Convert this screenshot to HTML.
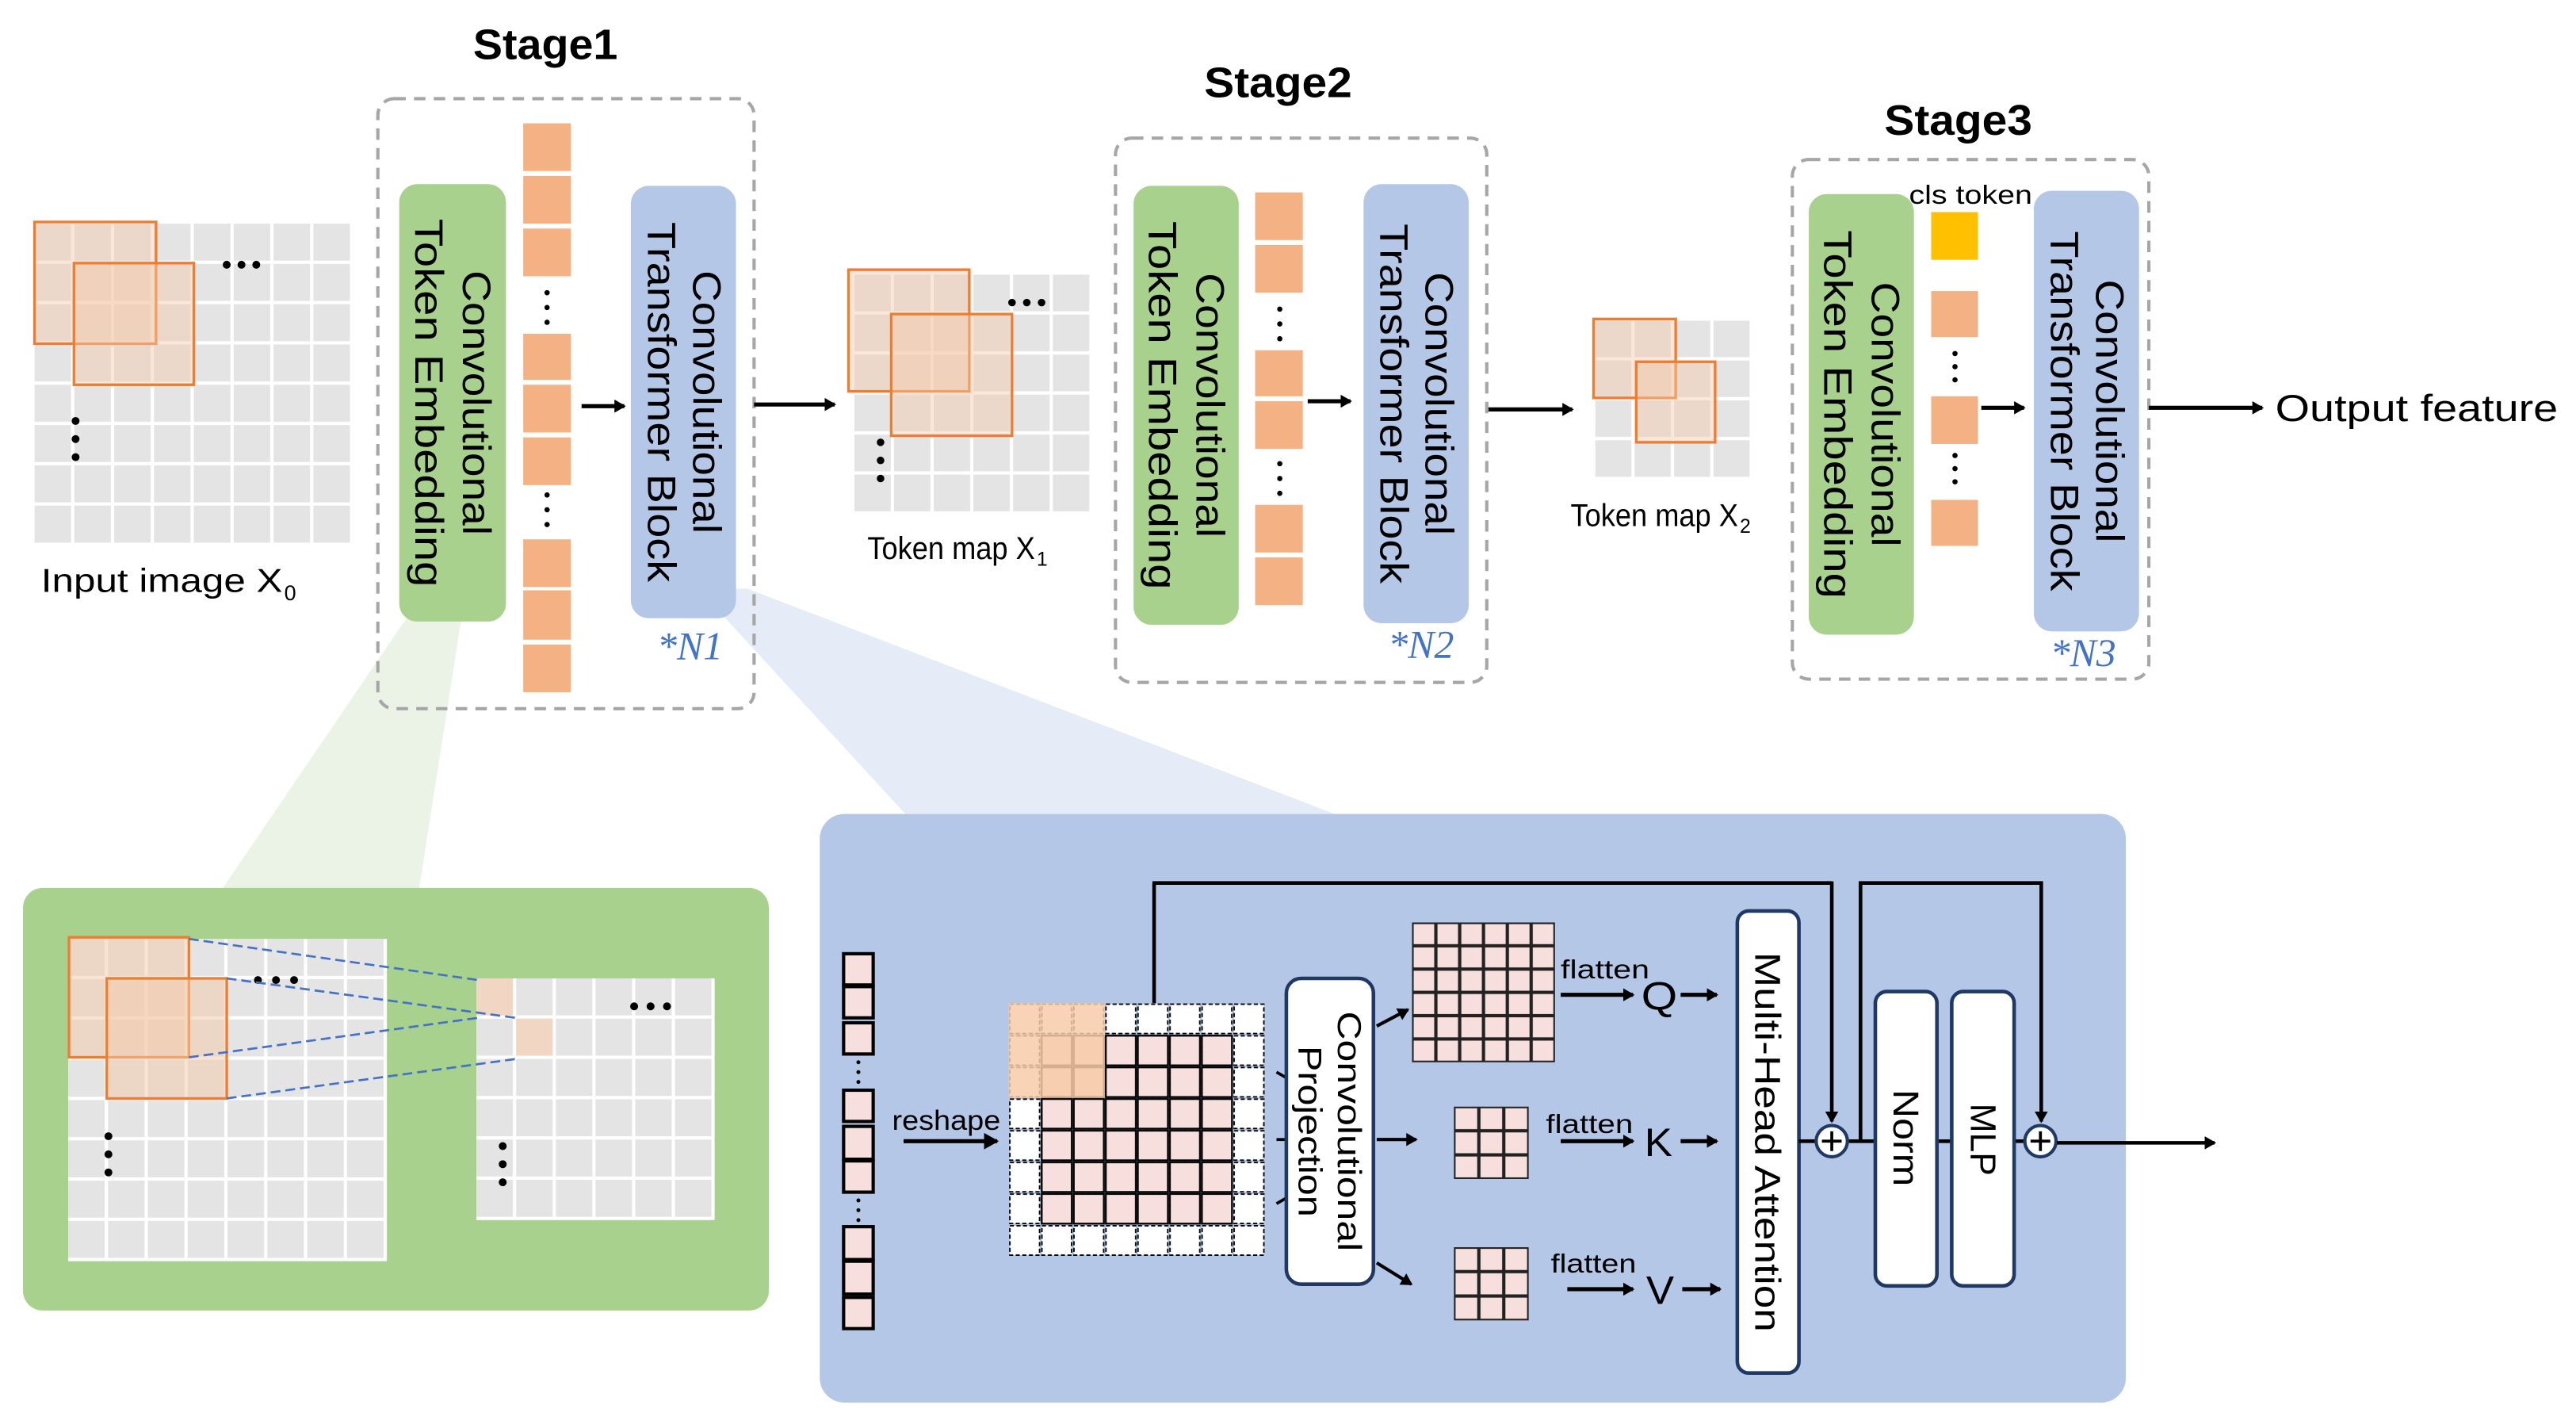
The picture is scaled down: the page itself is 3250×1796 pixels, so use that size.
<!DOCTYPE html>
<html><head><meta charset="utf-8"><style>html,body{margin:0;padding:0;background:#fff}svg{display:block}</style></head>
<body>
<svg width="3250" height="1796" viewBox="0 0 1568 866" preserveAspectRatio="none" xmlns="http://www.w3.org/2000/svg" font-family="'Liberation Sans', 'DejaVu Sans', sans-serif">
<defs>
<pattern id="g0" patternUnits="userSpaceOnUse" x="21" y="136" width="24.25" height="24.5"><rect width="22.25" height="22.5" fill="#e4e4e4"/></pattern>
<pattern id="g1" patternUnits="userSpaceOnUse" x="520" y="167" width="24.17" height="24.33"><rect width="22.2" height="22.3" fill="#e4e4e4"/></pattern>
<pattern id="g2" patternUnits="userSpaceOnUse" x="971" y="195" width="24" height="24.25"><rect width="22" height="22.2" fill="#e4e4e4"/></pattern>
<pattern id="g3" patternUnits="userSpaceOnUse" x="41.5" y="571" width="24.25" height="24.5"><rect width="22.25" height="22.5" fill="#e4e4e4"/></pattern>
<pattern id="g4" patternUnits="userSpaceOnUse" x="290" y="595" width="24.17" height="24.5"><rect width="22.2" height="22.5" fill="#e4e4e4"/></pattern>
<pattern id="pd" patternUnits="userSpaceOnUse" x="614" y="610" width="19.5" height="19.25"><rect x="0.7" y="0.7" width="18.1" height="17.85" fill="#fff" stroke="#000" stroke-width="0.9" stroke-dasharray="2.5,1.5"/></pattern>
<pattern id="ps" patternUnits="userSpaceOnUse" x="633.5" y="629.25" width="19.5" height="19.25"><rect x="0.6" y="0.6" width="18.3" height="18.05" fill="#f6dfdc" stroke="#000" stroke-width="1.1"/></pattern>
<pattern id="pq" patternUnits="userSpaceOnUse" x="859.5" y="561" width="14.5" height="14.17"><rect x="0.5" y="0.5" width="13.5" height="13.17" fill="#f6dfdc" stroke="#222" stroke-width="1"/></pattern>
<pattern id="pk" patternUnits="userSpaceOnUse" x="885" y="673" width="15.17" height="14.67"><rect x="0.5" y="0.5" width="14.17" height="13.67" fill="#f6dfdc" stroke="#222" stroke-width="1"/></pattern>
<pattern id="pv" patternUnits="userSpaceOnUse" x="885" y="758.5" width="15.17" height="14.83"><rect x="0.5" y="0.5" width="14.17" height="13.83" fill="#f6dfdc" stroke="#222" stroke-width="1"/></pattern>
<marker id="ah" markerWidth="8" markerHeight="8" refX="6" refY="4" orient="auto" markerUnits="userSpaceOnUse"><path d="M0,0 L7,4 L0,8 Z" fill="#000"/></marker>
<marker id="ah2" markerWidth="10" markerHeight="10" refX="8" refY="5" orient="auto" markerUnits="userSpaceOnUse"><path d="M0,0 L9,5 L0,10 Z" fill="#000"/></marker>
</defs>

<polygon points="248,375 281,375 255,541 135,541" fill="#ebf3e6"/>
<polygon points="425,358 455,358 815,496 552,496" fill="#e6ecf7"/>

<text x="332" y="36" font-size="26" font-weight="bold" text-anchor="middle" textLength="88" lengthAdjust="spacingAndGlyphs">Stage1</text>
<text x="778" y="59" font-size="26" font-weight="bold" text-anchor="middle" textLength="90" lengthAdjust="spacingAndGlyphs">Stage2</text>
<text x="1192" y="82" font-size="26" font-weight="bold" text-anchor="middle" textLength="90" lengthAdjust="spacingAndGlyphs">Stage3</text>

<rect x="21" y="136" width="194" height="196" fill="url(#g0)"/>
<rect x="21" y="135" width="74" height="74" fill="#f4c9aa" fill-opacity="0.45" stroke="#ed7d31" stroke-width="1.6"/>
<rect x="45" y="160" width="73" height="74" fill="#f4c9aa" fill-opacity="0.45" stroke="#ed7d31" stroke-width="1.6"/>
<g fill="#000"><circle cx="138" cy="161" r="2.4"/><circle cx="147" cy="161" r="2.4"/><circle cx="156" cy="161" r="2.4"/>
<circle cx="46" cy="256" r="2.4"/><circle cx="46" cy="267" r="2.4"/><circle cx="46" cy="278" r="2.4"/></g>
<text x="25" y="360" font-size="20" textLength="147" lengthAdjust="spacingAndGlyphs">Input image X</text><text x="173" y="365" font-size="13">0</text>

<rect x="230" y="60" width="229" height="371" rx="10" fill="none" stroke="#a6a6a6" stroke-width="2" stroke-dasharray="7,5"/>
<rect x="243" y="112" width="65" height="266" rx="11" fill="#a9d18e"/>
<g transform="translate(275.5,245) rotate(90)" font-size="24" text-anchor="middle" dominant-baseline="central">
<text x="0" y="-14.5" textLength="161" lengthAdjust="spacingAndGlyphs">Convolutional</text>
<text x="0" y="14.5" textLength="224" lengthAdjust="spacingAndGlyphs">Token  Embedding</text></g>
<g fill="#f4b183"><rect x="318.5" y="75" width="29" height="29"/><rect x="318.5" y="107" width="29" height="29"/><rect x="318.5" y="139" width="29" height="29"/>
<rect x="318.5" y="203" width="29" height="28"/><rect x="318.5" y="234" width="29" height="29"/><rect x="318.5" y="266" width="29" height="29"/>
<rect x="318.5" y="328" width="29" height="29"/><rect x="318.5" y="359" width="29" height="30"/><rect x="318.5" y="392" width="29" height="29"/></g>
<g fill="#000"><circle cx="333" cy="178" r="1.6"/><circle cx="333" cy="187" r="1.6"/><circle cx="333" cy="196" r="1.6"/>
<circle cx="333" cy="301" r="1.6"/><circle cx="333" cy="310" r="1.6"/><circle cx="333" cy="319" r="1.6"/></g>
<line x1="354" y1="247" x2="380" y2="247" stroke="#000" stroke-width="2.5" marker-end="url(#ah)"/>
<rect x="384" y="113" width="64" height="263" rx="11" fill="#b4c7e7"/>
<g transform="translate(416,244.5) rotate(90)" font-size="24" text-anchor="middle" dominant-baseline="central">
<text x="0" y="-14" textLength="160" lengthAdjust="spacingAndGlyphs">Convolutional</text>
<text x="0" y="13.5" textLength="219" lengthAdjust="spacingAndGlyphs">Transformer  Block</text></g>
<text x="400" y="401" font-size="24" font-style="italic" fill="#4472c4" font-family="'Liberation Serif', serif">*N1</text>
<line x1="459" y1="246" x2="508" y2="246" stroke="#000" stroke-width="2.5" marker-end="url(#ah)"/>

<rect x="520" y="167" width="145" height="146" fill="url(#g1)"/>
<rect x="516.5" y="164" width="73.5" height="74" fill="#f4c9aa" fill-opacity="0.45" stroke="#ed7d31" stroke-width="1.6"/>
<rect x="542.5" y="191" width="73.5" height="74" fill="#f4c9aa" fill-opacity="0.45" stroke="#ed7d31" stroke-width="1.6"/>
<g fill="#000"><circle cx="616" cy="184" r="2.3"/><circle cx="625" cy="184" r="2.3"/><circle cx="634" cy="184" r="2.3"/>
<circle cx="536" cy="269" r="2.3"/><circle cx="536" cy="280" r="2.3"/><circle cx="536" cy="291" r="2.3"/></g>
<text x="528" y="340" font-size="19" textLength="102" lengthAdjust="spacingAndGlyphs">Token map X</text><text x="631" y="344" font-size="12">1</text>

<rect x="679" y="84" width="226" height="331" rx="10" fill="none" stroke="#a6a6a6" stroke-width="2" stroke-dasharray="7,5"/>
<rect x="690" y="113" width="64" height="267" rx="11" fill="#a9d18e"/>
<g transform="translate(722,246.5) rotate(90)" font-size="24" text-anchor="middle" dominant-baseline="central">
<text x="0" y="-14.5" textLength="161" lengthAdjust="spacingAndGlyphs">Convolutional</text>
<text x="0" y="14.5" textLength="224" lengthAdjust="spacingAndGlyphs">Token  Embedding</text></g>
<g fill="#f4b183"><rect x="764" y="117" width="29" height="29"/><rect x="764" y="149" width="29" height="29"/>
<rect x="764" y="213" width="29" height="28"/><rect x="764" y="244" width="29" height="29"/>
<rect x="764" y="307" width="29" height="29"/><rect x="764" y="339" width="29" height="29"/></g>
<g fill="#000"><circle cx="779" cy="188" r="1.6"/><circle cx="779" cy="197" r="1.6"/><circle cx="779" cy="206" r="1.6"/>
<circle cx="779" cy="282" r="1.6"/><circle cx="779" cy="291" r="1.6"/><circle cx="779" cy="300" r="1.6"/></g>
<line x1="796" y1="244" x2="822" y2="244" stroke="#000" stroke-width="2.5" marker-end="url(#ah)"/>
<rect x="830" y="112" width="64" height="267" rx="11" fill="#b4c7e7"/>
<g transform="translate(862,245.5) rotate(90)" font-size="24" text-anchor="middle" dominant-baseline="central">
<text x="0" y="-14" textLength="160" lengthAdjust="spacingAndGlyphs">Convolutional</text>
<text x="0" y="13.5" textLength="219" lengthAdjust="spacingAndGlyphs">Transformer  Block</text></g>
<text x="845" y="400" font-size="24" font-style="italic" fill="#4472c4" font-family="'Liberation Serif', serif">*N2</text>
<line x1="906" y1="249" x2="957" y2="249" stroke="#000" stroke-width="2.5" marker-end="url(#ah)"/>

<rect x="971" y="195" width="96" height="97" fill="url(#g2)"/>
<rect x="970" y="194" width="50" height="48" fill="#f4c9aa" fill-opacity="0.45" stroke="#ed7d31" stroke-width="1.6"/>
<rect x="996" y="220" width="48" height="49" fill="#f4c9aa" fill-opacity="0.45" stroke="#ed7d31" stroke-width="1.6"/>
<text x="956" y="320" font-size="19" textLength="102" lengthAdjust="spacingAndGlyphs">Token map X</text><text x="1059" y="324" font-size="12">2</text>

<rect x="1091" y="97" width="217" height="316" rx="10" fill="none" stroke="#a6a6a6" stroke-width="2" stroke-dasharray="7,5"/>
<rect x="1101" y="118" width="64" height="268" rx="11" fill="#a9d18e"/>
<g transform="translate(1133,252) rotate(90)" font-size="24" text-anchor="middle" dominant-baseline="central">
<text x="0" y="-14.5" textLength="161" lengthAdjust="spacingAndGlyphs">Convolutional</text>
<text x="0" y="14.5" textLength="224" lengthAdjust="spacingAndGlyphs">Token  Embedding</text></g>
<text x="1162" y="124" font-size="16" textLength="75" lengthAdjust="spacingAndGlyphs">cls token</text>
<rect x="1175.5" y="129" width="28.5" height="29" fill="#ffc000"/>
<g fill="#f4b183"><rect x="1175.5" y="177" width="28.5" height="28"/><rect x="1175.5" y="241" width="28.5" height="29"/><rect x="1175.5" y="304" width="28.5" height="28"/></g>
<g fill="#000"><circle cx="1190" cy="215" r="1.6"/><circle cx="1190" cy="223" r="1.6"/><circle cx="1190" cy="231" r="1.6"/>
<circle cx="1190" cy="277" r="1.6"/><circle cx="1190" cy="285" r="1.6"/><circle cx="1190" cy="293" r="1.6"/></g>
<line x1="1206" y1="248" x2="1232" y2="248" stroke="#000" stroke-width="2.5" marker-end="url(#ah)"/>
<rect x="1238" y="116" width="64" height="268" rx="11" fill="#b4c7e7"/>
<g transform="translate(1270,250) rotate(90)" font-size="24" text-anchor="middle" dominant-baseline="central">
<text x="0" y="-14" textLength="160" lengthAdjust="spacingAndGlyphs">Convolutional</text>
<text x="0" y="13.5" textLength="219" lengthAdjust="spacingAndGlyphs">Transformer  Block</text></g>
<text x="1248" y="405" font-size="24" font-style="italic" fill="#4472c4" font-family="'Liberation Serif', serif">*N3</text>
<line x1="1308" y1="248" x2="1377" y2="248" stroke="#000" stroke-width="2.5" marker-end="url(#ah)"/>
<text x="1385" y="256" font-size="23" textLength="172" lengthAdjust="spacingAndGlyphs">Output  feature</text>

<rect x="14" y="540" width="454" height="257" rx="12" fill="#a9d18e"/>
<rect x="41.5" y="571" width="194" height="196" fill="#fff"/>
<rect x="41.5" y="571" width="194" height="196" fill="url(#g3)"/>
<rect x="42" y="570" width="73" height="73" fill="#f4c9aa" fill-opacity="0.5" stroke="#ed7d31" stroke-width="1.6"/>
<rect x="65" y="595" width="73" height="73" fill="#f4c9aa" fill-opacity="0.5" stroke="#ed7d31" stroke-width="1.6"/>
<g fill="#000"><circle cx="157" cy="596" r="2.4"/><circle cx="168" cy="596" r="2.4"/><circle cx="179" cy="596" r="2.4"/>
<circle cx="66" cy="691" r="2.4"/><circle cx="66" cy="702" r="2.4"/><circle cx="66" cy="713" r="2.4"/></g>
<rect x="290" y="595" width="145" height="147" fill="#fff"/>
<rect x="290" y="595" width="145" height="147" fill="url(#g4)"/>
<rect x="290" y="595" width="22.2" height="22.5" fill="#f2d6c4"/>
<rect x="314.2" y="619.5" width="22.2" height="22.5" fill="#f2d6c4"/>
<g fill="#000"><circle cx="386" cy="612" r="2.4"/><circle cx="396" cy="612" r="2.4"/><circle cx="406" cy="612" r="2.4"/>
<circle cx="306" cy="697" r="2.4"/><circle cx="306" cy="708" r="2.4"/><circle cx="306" cy="719" r="2.4"/></g>
<g stroke="#4472c4" stroke-width="1.3" stroke-dasharray="6,3">
<line x1="115" y1="571" x2="291" y2="596"/><line x1="138" y1="595" x2="314" y2="619"/>
<line x1="115" y1="643" x2="291" y2="619"/><line x1="138" y1="668" x2="314" y2="644"/></g>

<rect x="499" y="495" width="795" height="358" rx="15" fill="#b4c7e7"/>
<g fill="#f6dfdc" stroke="#000" stroke-width="2">
<rect x="513.5" y="580" width="18" height="19"/><rect x="513.5" y="600" width="18" height="19"/><rect x="513.5" y="622" width="18" height="19"/>
<rect x="513.5" y="663" width="18" height="19"/><rect x="513.5" y="685" width="18" height="20"/><rect x="513.5" y="706" width="18" height="19"/>
<rect x="513.5" y="746" width="18" height="20"/><rect x="513.5" y="767" width="18" height="20"/><rect x="513.5" y="789" width="18" height="19"/></g>
<g fill="#000"><circle cx="522.5" cy="646" r="1.2"/><circle cx="522.5" cy="652" r="1.2"/><circle cx="522.5" cy="658" r="1.2"/>
<circle cx="522.5" cy="730" r="1.2"/><circle cx="522.5" cy="736" r="1.2"/><circle cx="522.5" cy="742" r="1.2"/></g>
<text x="543" y="687" font-size="17" textLength="66" lengthAdjust="spacingAndGlyphs">reshape</text>
<line x1="550" y1="694" x2="607" y2="694" stroke="#000" stroke-width="2.5" marker-end="url(#ah2)"/>

<rect x="614" y="610" width="156" height="154" fill="url(#pd)"/>
<rect x="633.5" y="629.25" width="117" height="115.5" fill="url(#ps)"/>
<rect x="614" y="610" width="58.5" height="57.75" fill="#f8cba8" fill-opacity="0.85"/>
<line x1="702.5" y1="610" x2="702.5" y2="537" stroke="#000" stroke-width="2.2"/>
<line x1="701.5" y1="537" x2="1115" y2="537" stroke="#000" stroke-width="2.2"/>
<line x1="1115" y1="536" x2="1115" y2="682" stroke="#000" stroke-width="2.2" marker-end="url(#ah)"/>

<g stroke="#000" stroke-width="1.8"><line x1="777" y1="652" x2="784" y2="656"/><line x1="777" y1="693" x2="784" y2="693"/><line x1="777" y1="732" x2="784" y2="728"/></g>
<rect x="783" y="595" width="53" height="186" rx="9" fill="#fff" stroke="#1f3864" stroke-width="2.2"/>
<g transform="translate(809.5,688) rotate(90)" font-size="20" text-anchor="middle" dominant-baseline="central">
<text x="0" y="-12" textLength="146" lengthAdjust="spacingAndGlyphs">Convolutional</text>
<text x="0" y="12" textLength="104" lengthAdjust="spacingAndGlyphs">Projection</text></g>
<line x1="838" y1="624" x2="857" y2="614" stroke="#000" stroke-width="2" marker-end="url(#ah)"/>
<line x1="838" y1="693" x2="862" y2="693" stroke="#000" stroke-width="2" marker-end="url(#ah)"/>
<line x1="838" y1="768" x2="859" y2="781" stroke="#000" stroke-width="2" marker-end="url(#ah)"/>

<rect x="859.5" y="561" width="87" height="85" fill="url(#pq)"/>
<rect x="885" y="673" width="45.5" height="44" fill="url(#pk)"/>
<rect x="885" y="758.5" width="45.5" height="44.5" fill="url(#pv)"/>

<g font-size="16"><text x="950" y="595" textLength="54" lengthAdjust="spacingAndGlyphs">flatten</text>
<text x="941" y="689" textLength="53" lengthAdjust="spacingAndGlyphs">flatten</text>
<text x="944" y="774" textLength="52" lengthAdjust="spacingAndGlyphs">flatten</text></g>
<g stroke="#000" stroke-width="2.5">
<line x1="950" y1="605" x2="994" y2="605" marker-end="url(#ah)"/><line x1="1023" y1="605" x2="1045" y2="605" marker-end="url(#ah)"/>
<line x1="950" y1="694" x2="994" y2="694" marker-end="url(#ah)"/><line x1="1023" y1="694" x2="1045" y2="694" marker-end="url(#ah)"/>
<line x1="954" y1="784" x2="994" y2="784" marker-end="url(#ah)"/><line x1="1024" y1="784" x2="1047" y2="784" marker-end="url(#ah)"/></g>
<g font-size="24"><text x="999" y="614" textLength="22" lengthAdjust="spacingAndGlyphs">Q</text>
<text x="1001" y="703" textLength="17" lengthAdjust="spacingAndGlyphs">K</text>
<text x="1002" y="793" textLength="17" lengthAdjust="spacingAndGlyphs">V</text></g>

<rect x="1057.5" y="554" width="37.5" height="281" rx="7" fill="#fff" stroke="#1f3864" stroke-width="2.2"/>
<g transform="translate(1076,694.5) rotate(90)" font-size="22" text-anchor="middle" dominant-baseline="central">
<text x="0" y="0" textLength="231" lengthAdjust="spacingAndGlyphs">Multi-Head  Attention</text></g>
<line x1="1095" y1="694" x2="1142" y2="694" stroke="#000" stroke-width="2.2"/>
<line x1="1179" y1="694" x2="1188" y2="694" stroke="#000" stroke-width="2.2"/>
<line x1="1226" y1="694" x2="1232" y2="694" stroke="#000" stroke-width="2.2"/>
<polyline points="1132.5,694 1132.5,537 1242.5,537 1242.5,682" fill="none" stroke="#000" stroke-width="2.2" marker-end="url(#ah)"/>
<rect x="1141.5" y="603" width="37.5" height="179" rx="7" fill="#fff" stroke="#1f3864" stroke-width="2.2"/>
<rect x="1188" y="603" width="38" height="179" rx="7" fill="#fff" stroke="#1f3864" stroke-width="2.2"/>
<g font-size="22" text-anchor="middle" dominant-baseline="central">
<text transform="translate(1160,692) rotate(90)" textLength="59" lengthAdjust="spacingAndGlyphs">Norm</text>
<text transform="translate(1207,693) rotate(90)" textLength="44" lengthAdjust="spacingAndGlyphs">MLP</text></g>
<g stroke="#1f3864" stroke-width="2" fill="#fff"><circle cx="1115" cy="694" r="9.5"/><circle cx="1242" cy="694" r="9.5"/></g>
<g stroke="#000" stroke-width="1.8"><line x1="1109" y1="694" x2="1121" y2="694"/><line x1="1115" y1="688" x2="1115" y2="700"/>
<line x1="1236" y1="694" x2="1248" y2="694"/><line x1="1242" y1="688" x2="1242" y2="700"/></g>
<line x1="1252" y1="695" x2="1348" y2="695" stroke="#000" stroke-width="2.2" marker-end="url(#ah)"/>
</svg>
</body></html>
